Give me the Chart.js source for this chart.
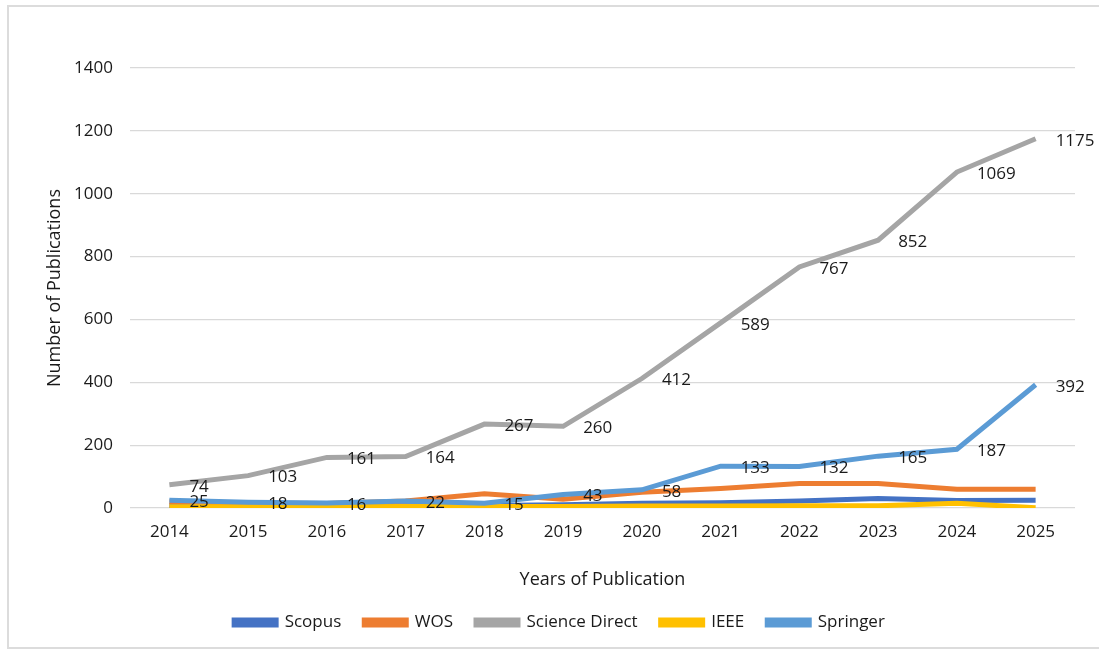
<!DOCTYPE html>
<html>
<head>
<meta charset="utf-8">
<title>Publications by year</title>
<script src="https://cdn.jsdelivr.net/npm/chart.js@4.4.1/dist/chart.umd.min.js"></script>
<style>
    html, body { margin: 0; padding: 0; background: #ffffff; }
    #wrap { position: relative; width: 1099px; height: 650px; overflow: hidden; }
    #frame {
        position: absolute; left: 7px; top: 5px; width: 1100px; height: 644px;
        border: 2px solid #dcdcdc; box-sizing: border-box;
    }
    #chart { position: absolute; left: 0; top: 0; }
</style>
</head>
<body>
<div id="wrap">
    <div id="frame"></div>
    <canvas id="chart" width="1099" height="650"></canvas>
</div>
<script>
/* chart data */
const years = ['2014', '2015', '2016', '2017', '2018', '2019', '2020', '2021', '2022', '2023', '2024', '2025'];
const scopus = [8, 7, 6, 7, 8, 10, 15, 17, 22, 30, 24, 25];
const wos = [20, 15, 14, 22, 45, 28, 50, 62, 78, 78, 60, 60];
const scienceDirect = [74, 103, 161, 164, 267, 260, 412, 589, 767, 852, 1069, 1175];
const ieee = [4, 4, 4, 5, 5, 5, 6, 6, 7, 7, 15, 1];
const springer = [25, 18, 16, 22, 15, 43, 58, 133, 132, 165, 187, 392];
const yTicks = [0, 200, 400, 600, 800, 1000, 1200, 1400];

const FONT = "'Open Sans', 'Liberation Sans', sans-serif";
const TEXT = '#1a1a1a';

function series (label, data, color, order, showValues) {
    return {
        label: label,
        data: data,
        borderColor: color,
        backgroundColor: color,
        borderWidth: 5,
        pointRadius: 0,
        pointHoverRadius: 0,
        tension: 0,
        order: order,
        showValues: showValues
    };
}

/* value labels to the right of each point */
const valueLabels = {
    id: 'valueLabels',
    afterDatasetsDraw (chart) {
        const ctx = chart.ctx;
        ctx.save();
        ctx.font = '17px ' + FONT;
        ctx.fillStyle = TEXT;
        ctx.textAlign = 'left';
        ctx.textBaseline = 'middle';
        chart.data.datasets.forEach((ds, di) => {
            if (!ds.showValues) {
                return;
            }
            chart.getDatasetMeta(di).data.forEach((pt, i) => {
                ctx.fillText(String(ds.data[i]), pt.x + 20, pt.y + 2);
            });
        });
        ctx.restore();
    }
};

try {
    new Chart(document.getElementById('chart').getContext('2d'), {
        type: 'line',
        data: {
            labels: years,
            datasets: [
                series('Scopus', scopus, '#4472c4', 5, false),
                series('WOS', wos, '#ed7d31', 4, false),
                series('Science Direct', scienceDirect, '#a5a5a5', 3, true),
                series('IEEE', ieee, '#ffc000', 2, false),
                series('Springer', springer, '#5b9bd5', 1, true)
            ]
        },
        options: {
            responsive: false,
            animation: false,
            layout: { padding: { left: 44, right: 24, top: 68, bottom: 9 } },
            plugins: {
                tooltip: { enabled: false },
                legend: {
                    display: true,
                    position: 'bottom',
                    labels: {
                        font: { family: FONT, size: 17 },
                        color: TEXT,
                        boxWidth: 42,
                        boxHeight: 5,
                        padding: 23,
                        sort: (a, b) => a.datasetIndex - b.datasetIndex
                    }
                }
            },
            scales: {
                x: {
                    offset: true,
                    grid: { display: false },
                    border: { display: false },
                    ticks: { font: { family: FONT, size: 17 }, color: TEXT, padding: 6, maxRotation: 0 },
                    title: {
                        display: true,
                        text: 'Years of Publication',
                        font: { family: FONT, size: 18 },
                        color: TEXT,
                        padding: { top: 22, bottom: 0 }
                    },
                    afterFit (scale) { scale.height = 83; }
                },
                y: {
                    min: 0,
                    max: 1400,
                    afterBuildTicks (scale) { scale.ticks = yTicks.map(v => ({ value: v })); },
                    grid: { color: '#d9d9d9', lineWidth: 1.2, drawTicks: false },
                    border: { display: false },
                    ticks: {
                        font: { family: FONT, size: 17 },
                        color: TEXT,
                        padding: 17,
                        callback: (v) => String(v)
                    },
                    title: {
                        display: true,
                        text: 'Number of Publications',
                        font: { family: FONT, size: 18 },
                        color: TEXT,
                        padding: 0
                    },
                    afterFit (scale) { scale.width = 86; }
                }
            }
        },
        plugins: [valueLabels]
    });
} catch (e) {
    console.error(e.stack);
    throw e;
}
</script>
</body>
</html>
